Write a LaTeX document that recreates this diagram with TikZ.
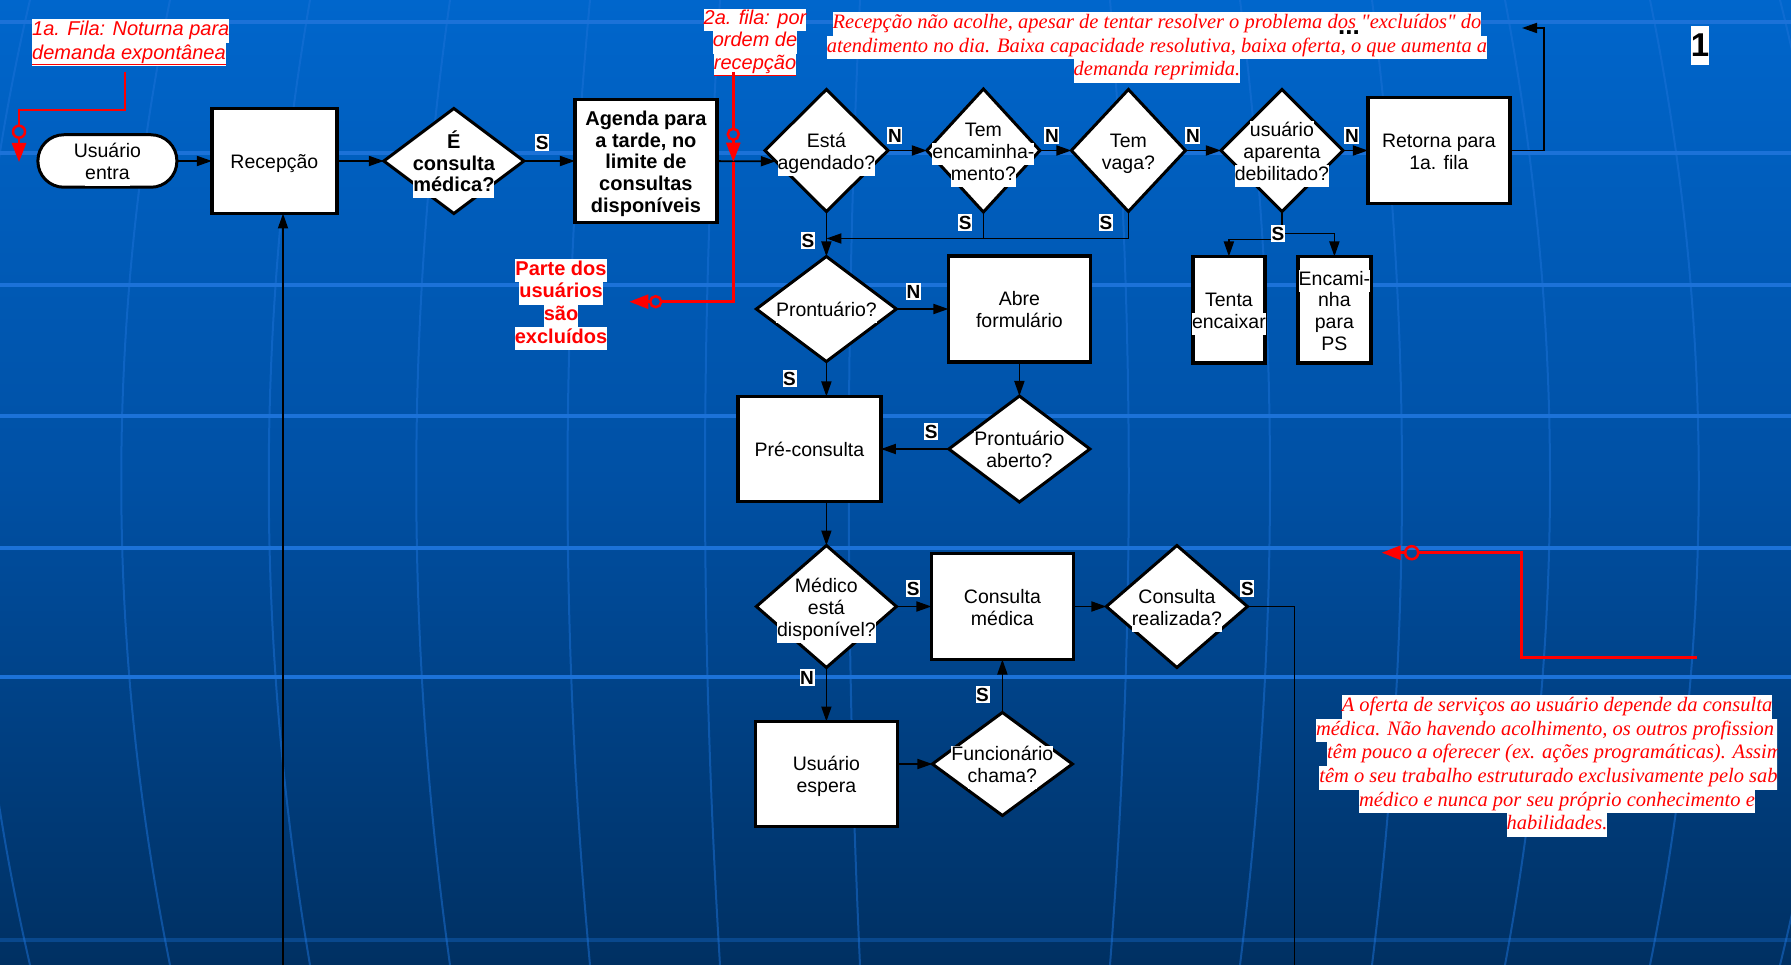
\documentclass[tikz,border=0pt]{standalone}
\usepackage{fontspec}
\setsansfont{Liberation Sans}
\newfontfamily\timesfont{Liberation Serif}
\usetikzlibrary{arrows.meta, positioning, shapes.geometric}

\definecolor{slidetop}{RGB}{0,102,204}
\definecolor{slidemid}{RGB}{0,80,164}
\definecolor{slidebot}{RGB}{0,48,98}
\definecolor{gridblue}{RGB}{28,114,216}
\definecolor{notered}{RGB}{255,0,0}

\setlength{\fboxsep}{0pt}
\newcommand{\flowfont}{\fontsize{19.5}{21.7}\selectfont\sffamily}
\newcommand{\flowbold}{\fontsize{20}{21.7}\selectfont\sffamily\bfseries}
\newcommand{\marksfont}{\fontsize{19}{21}\selectfont\sffamily\bfseries}
\newcommand{\hlw}[1]{\colorbox{white}{\strut #1}}
\newcommand{\tline}[1]{\makebox[0pt]{\raisebox{-3.5pt}[\height][\depth]{\hlw{#1}}}}

\tikzset{
  process/.style  = {draw, line width=3.3pt, fill=white, inner sep=0pt,
                     outer sep=0pt, minimum width=142pt, minimum height=106pt,
                     align=center, font=\flowfont},
  decision/.style = {diamond, draw, line width=3pt, fill=white, inner sep=0pt,
                     outer sep=0pt, align=center, font=\flowfont},
  terminal/.style = {draw, line width=3pt, fill=white, inner sep=0pt,
                     outer sep=0pt, rounded corners=26pt, minimum width=139pt,
                     minimum height=52.5pt, align=center, font=\flowfont},
  flow/.style     = {line width=1.8pt, -{Triangle[length=15pt, width=10pt]}},
  answer/.style   = {fill=white, inner xsep=0.6pt, inner ysep=1.5pt,
                     text height=14pt, text depth=0pt, font=\marksfont},
  redline/.style  = {draw=notered, line width=2.7pt},
  redflow/.style  = {redline, -{Triangle[length=19pt, width=14pt]}},
  queue/.style    = {circle, draw=notered, line width=2.5pt, outer sep=0pt,
                     minimum size=12pt, inner sep=0pt},
  rednote/.style  = {text=notered, inner sep=0pt, align=center,
                     font=\fontsize{20}{22.5}\selectfont\sffamily\itshape},
  critique/.style = {text=notered, inner sep=0pt, align=center,
                     font=\fontsize{20.5}{23.6}\selectfont\timesfont\itshape}
}

\begin{document}
\begin{tikzpicture}
  [x=1pt, y=-1pt]

  \useasboundingbox (0,0) rectangle (1791,965);
  \shade[top color=slidetop, bottom color=slidebot, middle color=slidemid]
    (0,0) rectangle (1791,965);
  \foreach \mx/\cx in {30/-45, 170/105, 310/255, 450/405, 590/560, 720/700,
                       860/845, 1110/1135, 1240/1280, 1372/1412, 1505/1565,
                       1650/1715, 1780/1860}
    \draw[gridblue, line width=2pt, opacity=.5]
      (\mx,0) .. controls (\cx,320) and (\cx,640) .. (\mx,965);
  \foreach \gy in {22,153,285,416,548,677}
    \draw[gridblue, line width=4pt] (0,\gy) -- (1791,\gy);
  \draw[gridblue, line width=4pt, opacity=.35] (0,940) -- (1791,940);

  \node[terminal] (entra) at (107.4,161) {\tline{Usuário}\\\tline{entra}};
  \node[process, minimum width=125pt, minimum height=105pt] (recep)
    [right=35pt of entra] {\tline{Recepção}};
  \node[decision, minimum width=140pt, minimum height=105pt, font=\flowbold]
    (ehcons) [right=47pt of recep] {\tline{É}\\\tline{consulta}\\\tline{médica?}};
  \node[process, minimum height=123pt, font=\flowbold] (agenda)
    [right=51pt of ehcons] {\tline{Agenda para}\\\tline{a tarde, no}\\\tline{limite de}\\
    \tline{consultas}\\\tline{disponíveis}};
  \node[decision, minimum width=123pt, minimum height=122pt] (esta)
    [right=48pt of agenda, yshift=10.5pt] {\tline{Está}\\\tline{agendado?}};
  \node[decision, minimum width=113pt, minimum height=123pt] (encam)
    [right=39pt of esta] {\tline{Tem}\\\tline{encaminha-}\\\tline{mento?}};
  \node[decision, minimum width=114pt, minimum height=122pt] (vaga)
    [right=31.5pt of encam] {\tline{Tem}\\\tline{vaga?}};
  \node[decision, minimum width=122pt, minimum height=122pt] (debil)
    [right=35.5pt of vaga] {\tline{usuário}\\\tline{aparenta}\\\tline{debilitado?}};
  \node[process] (retorna) [right=25pt of debil] {\tline{Retorna para}\\\tline{1a. fila}};

  \node[process, minimum width=72pt, minimum height=106.6pt] (tenta)
    [below=45pt of debil, xshift=-53pt] {\tline{Tenta}\\\tline{encaixar}};
  \node[process, minimum width=73pt, minimum height=106.6pt] (encps)
    [right=33pt of tenta] {\tline{Encami-}\\\tline{nha}\\\tline{para}\\\tline{PS}};

  \node[decision, minimum width=140pt, minimum height=105pt] (pront)
    [below=45pt of esta] {\tline{Prontuário?}};
  \node[process] (abre) [right=52pt of pront] {\tline{Abre}\\\tline{formulário}};
  \node[decision, minimum width=141pt, minimum height=106pt] (aberto)
    [below=34pt of abre] {\tline{Prontuário}\\\tline{aberto?}};
  \node[process, minimum width=143pt, minimum height=105pt] (precons)
    [left=68pt of aberto] {\tline{Pré-consulta}};
  \node[decision, minimum width=140pt, minimum height=122pt] (medico)
    [below=184pt of pront] {\tline{Médico}\\\tline{está}\\\tline{disponível?}};
  \node[process] (consulta) [right=35pt of medico] {\tline{Consulta}\\\tline{médica}};
  \node[decision, minimum width=141pt, minimum height=122pt] (realiz)
    [right=33pt of consulta] {\tline{Consulta}\\\tline{realizada?}};
  \node[process, minimum height=105pt] (espera) [below=54pt of medico]
    {\tline{Usuário}\\\tline{espera}};
  \node[decision, minimum width=140pt, minimum height=103pt] (chama)
    [below=53pt of consulta] {\tline{Funcionário}\\\tline{chama?}};

  \coordinate (back1) at (1522,28);
  \coordinate (exitR) at (1294,970);
  \coordinate (entryL) at (283,970);
  \coordinate (merge) at ([yshift=-27pt]esta.south);

  \draw[flow] (entra) -- (recep);
  \draw[flow] (recep) -- (ehcons);
  \draw[flow] (ehcons) -- node[answer, pos=.36, above=9pt] (s1) {S} (agenda);
  \draw[flow] (agenda) -- (esta.192);
  \draw[flow] (esta) -- node[answer, pos=.18, above=5.5pt] (n1) {N} (encam);
  \draw[flow] (encam) -- node[answer, pos=.38, above=5.5pt] (n2) {N} (vaga);
  \draw[flow] (vaga) -- node[answer, pos=.21, above=5.5pt] (n3) {N} (debil);
  \draw[flow] (debil) -- node[answer, pos=.36, above=5.5pt] (n4) {N} (retorna);
  \draw[flow] (retorna.east) -- ++(34,0) |- (back1);

  \draw (encam.south) -- node[answer, pos=.4, left=11pt] (s2) {S} (encam.south |- merge);
  \draw[flow] (vaga.south) |- node[answer, pos=.2, left=14.5pt] (s3) {S} (merge);
  \draw[flow] (esta.south) -- node[answer, pos=.64, left=10.5pt] (s4) {S} (pront.north);
  \draw[flow] (debil.south) -- ++(0,28) -| (tenta.north);
  \draw[flow] (debil.south) -- ++(0,22) node[answer, xshift=-4pt] (s5) {S} -| (encps.north);

  \draw[flow] (pront.south) -- node[answer, pos=.49, left=29pt] (s6) {S}
    (pront.south |- precons.north);
  \draw[flow] (pront) -- node[answer, pos=.33, above=8pt] (n5) {N} (abre);
  \draw[flow] (abre) -- (aberto);
  \draw[flow] (aberto) -- node[answer, pos=.26, above=8.3pt] (s7) {S} (precons);
  \draw[flow] (precons.south -| medico.north) -- (medico.north);
  \draw[flow] (medico) -- node[answer, pos=.48, above=9pt] (s8) {S} (consulta);
  \draw[flow] (medico) -- node[answer, pos=.18, left=11pt] (n6) {N} (espera);
  \draw[flow] (espera.east |- chama.west) -- (chama.west);
  \draw[flow] (chama) -- node[answer, pos=.34, left=12pt] (s9) {S} (consulta);
  \draw[flow] (consulta) -- (realiz);
  \draw (realiz.east) -| node[answer, pos=0, above=9pt] (s10) {S} (exitR);
  \draw[flow] (entryL) -- (entryL |- recep.south);

  \node[rednote, anchor=north west, align=left,
    font=\fontsize{20}{23.5}\selectfont\sffamily\itshape] (fila1) at (32,19)
    {\hlw{1a. Fila: Noturna para}\\\hlw{\underline{demanda expontânea}}};
  \node[rednote, anchor=north] (fila2) at (755,8.5)
    {\hlw{2a. fila: por}\\\hlw{ordem de}\\\hlw{\underline{recepção}}};
  \node[rednote, anchor=north, font=\fontsize{20}{22.7}\selectfont\sffamily\bfseries]
    (excl) at (561,259) {\hlw{Parte dos}\\\hlw{usuários}\\\hlw{são}\\\hlw{excluídos}};

  \node[critique, anchor=north] (recnote) at (1157,12)
    {\hlw{Recepção não acolhe, apesar de tentar resolver o problema dos "excluídos" do}\\
     \hlw{atendimento no dia. Baixa capacidade resolutiva, baixa oferta, o que aumenta a}\\
     \hlw{demanda reprimida.}};
  \node[anchor=base, inner sep=0pt, font=\fontsize{26}{28}\selectfont\sffamily\bfseries]
    (dots) at (1349,35) {...};
  \node[fill=white, inner sep=0pt, minimum height=39pt,
    font=\fontsize{33}{36}\selectfont\sffamily\bfseries] (slideno) at (1700,45.5) {1};
  \begin{scope}
    \clip (1150,680) rectangle (1777,850);
    \node[critique, anchor=north] (ofnote) at (1557,695)
      {\hlw{A oferta de serviços ao usuário depende da consulta}\\
       \hlw{médica. Não havendo acolhimento, os outros profission\phantom{ais}}\\
       \hlw{têm pouco a oferecer (ex. ações programáticas). Assim\phantom{,}}\\
       \hlw{têm o seu trabalho estruturado exclusivamente pelo sab\phantom{er}}\\
       \hlw{médico e nunca por seu próprio conhecimento e}\\
       \hlw{habilidades.}};
  \end{scope}

  \coordinate (q1top) at (125,72);
  \coordinate (q1end) at (19,162);
  \node[queue] (q1c) at (19,131.7) {};
  \draw[redline] (q1top) -- ++(0,38) -| (q1c.north);
  \draw[redflow] (q1c.south) -- (q1end);

  \coordinate (q2top) at (733.3,72);
  \coordinate (q2tip) at (733.3,161.7);
  \coordinate (q3end) at (629.3,301.7);
  \node[queue, minimum size=11pt] (q2c) at (733.3,134.3) {};
  \node[queue, minimum size=11pt] (q3c) at (655.7,301.7) {};
  \draw[redline] (q2top) -- (q2c.north);
  \draw[redflow] (q2c.south) -- (q2tip);
  \draw[redline] (q2tip) |- (q3c.east);
  \draw[redflow] (q3c.west) -- (q3end);

  \coordinate (q4start) at (1697,657.7);
  \coordinate (q4bend) at (1521.7,657.7);
  \coordinate (q4end) at (1381.7,552.7);
  \node[queue, minimum size=13pt] (q4c) at (1411.7,552.7) {};
  \draw[redline] (q4start) -- (q4bend) |- (q4c.east);
  \draw[redflow] (q4c.west) -- (q4end);
\end{tikzpicture}
\end{document}
